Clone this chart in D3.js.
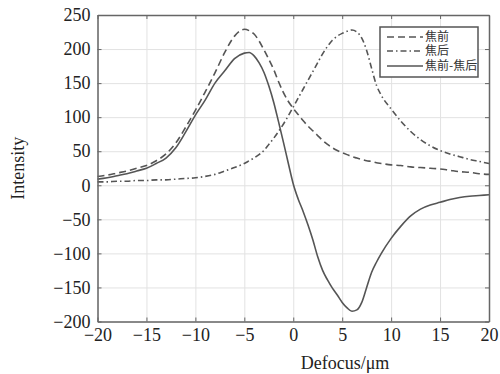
<!DOCTYPE html>
<html>
<head>
<meta charset="utf-8">
<script src="https://cdn.jsdelivr.net/npm/d3@7"></script>
<style>
  body { margin: 0; background: #fff; }
  svg { display: block; }
</style>
</head>
<body>
<svg width="500" height="374"></svg>
<script>
// defocus positions (um), shared by the three curves
var defocus = [-20, -19, -18, -17, -16, -15, -14, -13, -12, -11, -10, -9, -8, -7, -6,
  -5, -4.5, -4, -3.5, -3, -2.5, -2, -1.5, -1, -0.5, 0, 0.5, 1, 1.5, 2, 2.5, 3, 3.5,
  4, 4.5, 5, 5.5, 6, 6.5, 7, 7.5, 8, 8.5, 9,
  10, 11, 12, 13, 14, 15, 16, 17, 18, 19, 20];

// 焦前
var before = [13, 15, 18, 21, 25, 29, 36, 46, 62, 85, 110, 137, 165, 195, 219,
  229, 227, 222, 212, 199, 185, 170, 152, 136, 123, 113, 104, 95, 87, 80, 73, 66, 60,
  55, 51, 48, 45, 42, 40, 38, 36, 35, 33, 32,
  30, 29, 27, 26, 25, 24, 22, 20, 19, 17, 16];

// 焦后
var after = [5, 5, 6, 6, 7, 7, 8, 8, 9, 10, 11, 13, 16, 21, 26,
  32, 36, 40, 45, 51, 60, 69, 79, 90, 102, 115, 128, 141, 154, 167, 180, 193, 204,
  213, 219, 223, 226, 228, 225, 216, 198, 172, 147, 132,
  112, 94, 79, 67, 58, 51, 46, 42, 38, 35, 32];

// 焦前-焦后
var diff = [9, 11, 14, 17, 21, 25, 32, 40, 55, 78, 103, 125, 150, 168, 186,
  194, 195, 190, 180, 166, 146, 122, 93, 63, 32, 2, -20, -38, -58, -80, -105, -125, -139,
  -151, -161, -172, -180, -185, -183, -172, -150, -128, -113, -100,
  -78, -60, -45, -35, -29, -25, -21, -18, -16, -15, -14];

var xTicks = [-20, -15, -10, -5, 0, 5, 10, 15, 20];
var yTicks = [-200, -150, -100, -50, 0, 50, 100, 150, 200, 250];
var legendNames = ['焦前', '焦后', '焦前-焦后'];

var svg = d3.select('svg');
var padLeft = 97.5, padTop = 15, padRight = 489, padBottom = 321.5;
var w = padRight - padLeft, h = padBottom - padTop;

var x = d3.scaleLinear().domain([-20, 20]).range([0, w]);
var y = d3.scaleLinear().domain([-200, 250]).range([h, 0]);

var g = svg.append('g').attr('transform', 'translate(' + padLeft + ',' + padTop + ')');

// grid
g.append('g')
  .attr('transform', 'translate(0,' + h + ')')
  .call(d3.axisBottom(x).tickValues(xTicks).tickSize(-h).tickFormat(''))
  .call(function (s) {
    s.select('.domain').remove();
    s.selectAll('line').attr('stroke', '#e2e2e2').attr('stroke-width', 1);
  });
g.append('g')
  .call(d3.axisLeft(y).tickValues(yTicks).tickSize(-w).tickFormat(''))
  .call(function (s) {
    s.select('.domain').remove();
    s.selectAll('line').attr('stroke', '#e2e2e2').attr('stroke-width', 1);
  });

// curves
var series = [
  { name: legendNames[0], values: before, dash: '7,4' },
  { name: legendNames[1], values: after, dash: '6,3,1.5,3' },
  { name: legendNames[2], values: diff, dash: null }
];

var line = d3.line()
  .x(function (d) { return x(d[0]); })
  .y(function (d) { return y(d[1]); })
  .curve(d3.curveMonotoneX);

series.forEach(function (s) {
  g.append('path')
    .datum(defocus.map(function (v, i) { return [v, s.values[i]]; }))
    .attr('fill', 'none')
    .attr('stroke', '#555')
    .attr('stroke-width', 1.6)
    .attr('stroke-dasharray', s.dash)
    .attr('d', line);
});

// axes with inward ticks on all four sides
function styleAxis(s) {
  s.select('.domain').attr('stroke', '#666').attr('stroke-width', 1.5);
  s.selectAll('.tick line').attr('stroke', '#666');
  s.selectAll('text')
    .attr('fill', '#222')
    .style('font-family', '"Liberation Serif", "Times New Roman", serif')
    .style('font-size', '18px');
}

g.append('g')
  .attr('transform', 'translate(0,' + h + ')')
  .call(d3.axisBottom(x).tickValues(xTicks).tickSizeInner(-4).tickSizeOuter(0).tickPadding(7))
  .call(styleAxis);
g.append('g')
  .call(d3.axisLeft(y).tickValues(yTicks).tickSizeInner(-4).tickSizeOuter(0).tickPadding(7))
  .call(styleAxis);
g.append('g')
  .call(d3.axisTop(x).tickValues(xTicks).tickSizeInner(-4).tickSizeOuter(0).tickFormat(''))
  .call(styleAxis);
g.append('g')
  .attr('transform', 'translate(' + w + ',0)')
  .call(d3.axisRight(y).tickValues(yTicks).tickSizeInner(-4).tickSizeOuter(0).tickFormat(''))
  .call(styleAxis);

// axis titles
svg.append('text')
  .attr('x', 345).attr('y', 369)
  .attr('text-anchor', 'middle')
  .attr('fill', '#222')
  .style('font-family', '"Liberation Serif", "Times New Roman", serif')
  .style('font-size', '18px')
  .text('Defocus/μm');

svg.append('text')
  .attr('transform', 'translate(24,' + (padTop + h / 2) + ') rotate(-90)')
  .attr('text-anchor', 'middle')
  .attr('fill', '#222')
  .style('font-family', '"Liberation Serif", "Times New Roman", serif')
  .style('font-size', '18px')
  .text('Intensity');

// legend
var legend = svg.append('g').attr('transform', 'translate(380,27)');
legend.append('rect')
  .attr('width', 98).attr('height', 50)
  .attr('fill', '#fff')
  .attr('stroke', '#555')
  .attr('stroke-width', 1.5);

var items = legend.selectAll('.legend')
  .data(series)
  .enter().append('g')
  .attr('class', 'legend')
  .attr('transform', function (d, i) { return 'translate(0,' + [10, 24, 39][i] + ')'; });

items.append('line')
  .attr('x1', 7).attr('x2', 43)
  .attr('stroke', '#555')
  .attr('stroke-width', 1.6)
  .attr('stroke-dasharray', function (d) { return d.dash; });

items.append('text')
  .attr('x', 45)
  .attr('dy', '0.35em')
  .attr('fill', '#333')
  .style('font-family', '"Noto Sans CJK SC", sans-serif')
  .style('font-size', '12px')
  .text(function (d) { return d.name; });
</script>
</body>
</html>
